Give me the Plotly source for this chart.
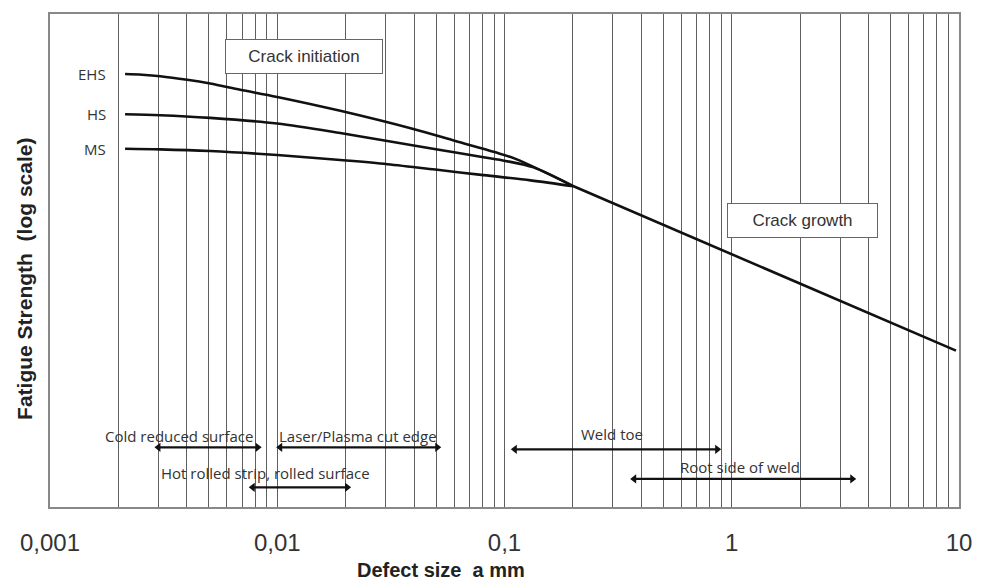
import math
import plotly.graph_objects as go

# ---- data ----
# x = defect size a [mm], y = relative fatigue strength (arbitrary log-scale units)
ehs_x = [0.00214, 0.002543, 0.003053, 0.004014, 0.005067, 0.006871, 0.0100, 0.018943,
         0.03972, 0.06082, 0.09035, 0.11184, 0.2014]
ehs_y = [87.82, 87.68, 87.39, 86.67, 85.90, 84.65, 83.17, 80.36,
         76.67, 74.24, 72.00, 70.61, 65.05]
hs_x = [0.00214, 0.003053, 0.005067, 0.0100, 0.018943, 0.03053, 0.05067, 0.08084,
        0.1010, 0.1342, 0.2014]
hs_y = [79.66, 79.47, 78.93, 77.78, 75.86, 74.24, 72.53, 70.95,
        70.20, 68.89, 65.05]
ms_x = [0.00214, 0.003053, 0.005067, 0.0100, 0.018943, 0.03053, 0.05067, 0.08084,
        0.13018, 0.2014]
ms_y = [72.67, 72.55, 72.20, 71.39, 70.38, 69.54, 68.40, 67.31, 66.26, 65.05]
growth_x = [0.2014, 1.0, 9.70]
growth_y = [65.05, 51.31, 31.72]

curve_labels = ["EHS", "HS", "MS"]

# defect-size ranges (arrows)
range_names = ["Cold reduced surface", "Laser/Plasma cut edge",
               "Hot rolled strip, rolled surface", "Weld toe", "Root side of weld"]
range_start = [0.003, 0.0103, 0.0078, 0.111, 0.372]
range_end = [0.0082, 0.0506, 0.0203, 0.863, 3.39]
range_level = [12.1, 12.1, 4.0, 11.7, 5.7]
range_text_x = [0.0037, 0.02265, 0.00885, 0.298, 1.084]
range_text_level = [14.5, 14.5, 6.9, 14.9, 8.1]

tick_vals = [0.001, 0.01, 0.1, 1, 10]
tick_text = ["0,001", "0,01", "0,1", "1", "10"]
grid_vals = [m * 10 ** e for e in range(-3, 1) for m in range(1, 10)] + [10]

fig = go.Figure()

line_style = dict(color="#111111", width=2.6, shape="spline", smoothing=0.9)
for xs, ys in [(ehs_x, ehs_y), (hs_x, hs_y), (ms_x, ms_y)]:
    fig.add_trace(go.Scatter(x=xs, y=ys, mode="lines", line=line_style,
                             showlegend=False, hoverinfo="skip"))
fig.add_trace(go.Scatter(x=growth_x, y=growth_y, mode="lines",
                         line=dict(color="#111111", width=2.6),
                         showlegend=False, hoverinfo="skip"))

# curve labels
for lab, xs, ys in zip(curve_labels, [ehs_x, hs_x, ms_x], [ehs_y, hs_y, ms_y]):
    fig.add_annotation(x=math.log10(xs[0]), y=ys[0], text=lab, showarrow=False,
                       xanchor="right", yanchor="middle", xshift=-17,
                       font=dict(family="Open Sans", size=15, color="#333333"))

# range arrows
for name, s, e, lv, tx, tl in zip(range_names, range_start, range_end,
                                  range_level, range_text_x, range_text_level):
    fig.add_trace(go.Scatter(x=[s, e], y=[lv, lv], mode="lines+markers",
                             line=dict(color="#111111", width=2.2),
                             marker=dict(symbol=["triangle-left", "triangle-right"],
                                         size=8, color="#111111"),
                             showlegend=False, hoverinfo="skip"))
    fig.add_annotation(x=math.log10(tx), y=tl, text=name, showarrow=False,
                       xanchor="center", yanchor="middle",
                       font=dict(family="Open Sans", size=15, color="#333333"))

# boxed labels
fig.add_annotation(x=math.log10(0.01315), y=91.4, text="Crack initiation",
                   showarrow=False, bordercolor="#666666", borderwidth=1,
                   borderpad=7, bgcolor="white", width=142,
                   xanchor="center", yanchor="middle",
                   font=dict(family="Liberation Sans", size=17, color="#333333"))
fig.add_annotation(x=math.log10(2.045), y=58.2, text="Crack growth",
                   showarrow=False, bordercolor="#666666", borderwidth=1,
                   borderpad=7, bgcolor="white", width=135,
                   xanchor="center", yanchor="middle",
                   font=dict(family="Liberation Sans", size=17, color="#333333"))

# axis titles
fig.add_annotation(xref="paper", yref="paper", x=(441 - 50) / 909, y=-(570 - 507) / 495,
                   text="<b>Defect size&nbsp;&nbsp;a mm</b>", showarrow=False,
                   xanchor="center", yanchor="middle",
                   font=dict(family="Liberation Sans", size=20, color="#222222"))
fig.add_annotation(xref="paper", yref="paper", x=-25 / 909, y=(507 - 278) / 495,
                   text="<b>Fatigue Strength&nbsp;&nbsp;(log scale)</b>", showarrow=False,
                   textangle=-90, xanchor="center", yanchor="middle",
                   font=dict(family="Liberation Sans", size=21, color="#222222"))

fig.update_xaxes(type="log", range=[-3, 1],
                 tickmode="array", tickvals=grid_vals,
                 ticktext=[tick_text[tick_vals.index(v)] if v in tick_vals else ""
                           for v in grid_vals],
                 showgrid=True, gridcolor="#5f5f5f", gridwidth=1,
                 showline=True, linecolor="#888888", linewidth=1.5, mirror=True,
                 ticks="", ticklabelstandoff=13, zeroline=False,
                 tickfont=dict(family="Liberation Sans", size=24, color="#333333"))
fig.update_yaxes(range=[0, 100], showticklabels=False, showgrid=False,
                 zeroline=False, showline=True, linecolor="#888888",
                 linewidth=1.5, mirror=True, ticks="")

fig.update_layout(width=987, height=582, margin=dict(l=50, r=28, t=12, b=75),
                  paper_bgcolor="white", plot_bgcolor="white", showlegend=False)

fig.write_html("out.html")
